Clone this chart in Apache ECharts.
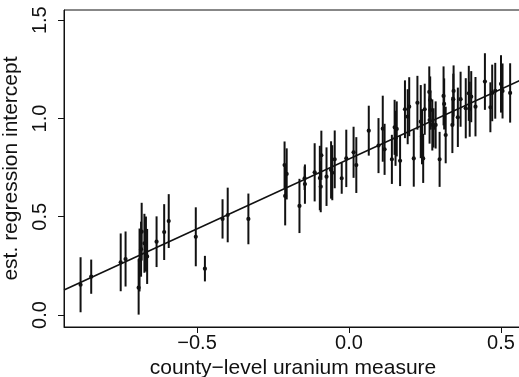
<!DOCTYPE html>
<html>
<head>
<meta charset="utf-8">
<script src="https://cdn.jsdelivr.net/npm/echarts@6/dist/echarts.min.js"></script>
<style>
  html, body { margin: 0; padding: 0; background: #fff; }
  #chart { width: 519px; height: 377px; }
</style>
</head>
<body>
<div id="chart"></div>
<script>
// County-level uranium measure (log scale) for each county
const countyUranium = [
  -0.883, -0.848, -0.751, -0.735, -0.692, -0.689, -0.684, -0.682, -0.673, -0.668,
  -0.664, -0.633, -0.608, -0.593, -0.504, -0.474, -0.416, -0.399, -0.331, -0.212,
  -0.205, -0.210, -0.163, -0.146, -0.145, -0.113, -0.096, -0.091, -0.093, -0.074,
  -0.059, -0.055, -0.047, -0.024, -0.009, 0.015, 0.024, 0.065, 0.097, 0.111,
  0.117, 0.141, 0.150, 0.153, 0.157, 0.168, 0.184, 0.193, 0.198, 0.213,
  0.225, 0.236, 0.240, 0.244, 0.249, 0.264, 0.267, 0.268, 0.265, 0.274,
  0.278, 0.285, 0.298, 0.311, 0.313, 0.318, 0.340, 0.344, 0.343, 0.358,
  0.367, 0.384, 0.394, 0.397, 0.402, 0.416, 0.447, 0.465, 0.471, 0.481,
  0.500, 0.505, 0.530
];

// Estimated regression intercept for each county
const interceptEst = [
  0.154, 0.195, 0.268, 0.285, 0.139, 0.280, 0.335, 0.424, 0.365, 0.361,
  0.298, 0.373, 0.422, 0.478, 0.398, 0.236, 0.489, 0.509, 0.489, 0.763,
  0.718, 0.606, 0.555, 0.696, 0.666, 0.726, 0.697, 0.813, 0.653, 0.704,
  0.738, 0.724, 0.792, 0.696, 0.797, 0.828, 0.763, 0.938, 0.862, 0.948,
  0.843, 0.792, 0.955, 0.899, 0.947, 0.785, 1.047, 1.009, 1.060, 0.797,
  1.080, 0.984, 0.907, 0.797, 1.047, 1.135, 1.094, 1.043, 0.992, 0.967,
  0.952, 0.967, 0.792, 1.115, 1.074, 0.916, 0.967, 1.140, 1.098, 1.006,
  1.098, 1.052, 1.128, 1.047, 1.111, 1.060, 1.188, 1.057, 1.130, 1.141,
  1.176, 1.140, 1.130
];

// Standard error of each estimate (bars span +/- one standard error)
const interceptSe = [
  0.140, 0.087, 0.147, 0.140, 0.137, 0.160, 0.140, 0.147, 0.150, 0.140,
  0.140, 0.129, 0.142, 0.137, 0.150, 0.065, 0.100, 0.139, 0.129, 0.120,
  0.130, 0.150, 0.138, 0.060, 0.100, 0.148, 0.164, 0.125, 0.130, 0.149,
  0.146, 0.140, 0.147, 0.079, 0.146, 0.130, 0.142, 0.127, 0.140, 0.168,
  0.130, 0.125, 0.140, 0.140, 0.140, 0.129, 0.147, 0.140, 0.150, 0.144,
  0.137, 0.186, 0.140, 0.125, 0.130, 0.130, 0.120, 0.100, 0.120, 0.130,
  0.100, 0.120, 0.140, 0.150, 0.130, 0.144, 0.143, 0.130, 0.130, 0.151,
  0.140, 0.153, 0.140, 0.140, 0.130, 0.151, 0.144, 0.127, 0.144, 0.142,
  0.146, 0.140, 0.151
];

// Fitted group-level regression line
const fitIntercept = 0.794;
const fitSlope = 0.711;

// Axis ticks and their labels
const xTicks = [-0.5, 0.0, 0.5];
const xTickLabels = ['\u22120.5', '0.0', '0.5'];
const yTicks = [0.0, 0.5, 1.0, 1.5];
const yTickLabels = ['0.0', '0.5', '1.0', '1.5'];

const X_MIN = -0.9375, X_MAX = 0.569;
const Y_MIN = -0.061, Y_MAX = 1.552;

const FONT = "'Liberation Sans', Arial, Helvetica, sans-serif";
const INK = '#111';

const points = countyUranium.map((u, i) => [u, interceptEst[i], interceptSe[i]]);
const fitLine = [X_MIN, X_MAX].map(u => [u, fitIntercept + fitSlope * u]);

function labelFor(ticks, labels) {
  return function (v) {
    for (let i = 0; i < ticks.length; i++) {
      if (Math.abs(ticks[i] - v) < 1e-9) return labels[i];
    }
    return '';
  };
}

const chart = echarts.init(document.getElementById('chart'), null, { renderer: 'canvas' });

chart.setOption({
  animation: false,
  backgroundColor: '#fff',
  grid: {
    left: 64, top: 10, width: 458, height: 317,
    containLabel: false, outerBoundsMode: 'none',
    show: true, borderColor: INK, borderWidth: 1, backgroundColor: 'transparent'
  },
  xAxis: {
    type: 'value', min: X_MIN, max: X_MAX,
    name: 'county\u2212level uranium measure',
    nameLocation: 'middle', nameGap: 28,
    nameTextStyle: { fontFamily: FONT, fontSize: 21, color: INK },
    axisLine: { show: true, onZero: false, lineStyle: { color: INK, width: 1 } },
    axisTick: { show: true, customValues: xTicks, length: 6, lineStyle: { color: INK } },
    axisLabel: {
      customValues: xTicks, formatter: labelFor(xTicks, xTickLabels),
      fontFamily: FONT, fontSize: 20, color: INK, margin: 6
    },
    splitLine: { show: false }
  },
  yAxis: {
    type: 'value', min: Y_MIN, max: Y_MAX,
    name: 'est. regression intercept',
    nameLocation: 'middle', nameGap: 40, nameRotate: 90,
    nameTextStyle: { fontFamily: FONT, fontSize: 21, color: INK },
    axisLine: { show: true, onZero: false, lineStyle: { color: INK, width: 1 } },
    axisTick: { show: true, customValues: yTicks, length: 6, lineStyle: { color: INK } },
    axisLabel: {
      customValues: yTicks, formatter: labelFor(yTicks, yTickLabels),
      rotate: 90, fontFamily: FONT, fontSize: 20, color: INK, margin: 14
    },
    splitLine: { show: false }
  },
  series: [
    {
      type: 'custom',
      data: points,
      clip: true,
      renderItem: function (params, api) {
        const u = api.value(0), est = api.value(1), se = api.value(2);
        const hi = api.coord([u, est + se]);
        const lo = api.coord([u, est - se]);
        const c = api.coord([u, est]);
        return {
          type: 'group',
          children: [
            { type: 'line', shape: { x1: c[0], y1: hi[1], x2: c[0], y2: lo[1] },
              style: { stroke: INK, lineWidth: 2 } },
            { type: 'circle', shape: { cx: c[0], cy: c[1], r: 2.1 },
              style: { fill: INK } }
          ]
        };
      }
    },
    {
      type: 'line',
      data: fitLine,
      symbol: 'none',
      clip: true,
      lineStyle: { color: INK, width: 1.6 }
    }
  ]
});
</script>
</body>
</html>
